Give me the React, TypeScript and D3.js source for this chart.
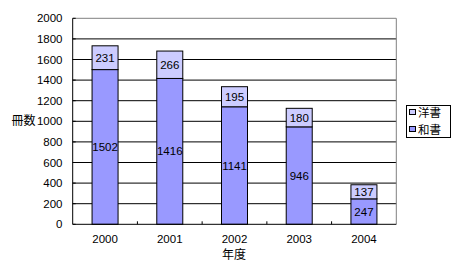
import React from "react";
import * as d3 from "d3";

const categories = ["2000", "2001", "2002", "2003", "2004"];
const washo = [1502, 1416, 1141, 946, 247];
const yosho = [231, 266, 195, 180, 137];
const yTicks = [0, 200, 400, 600, 800, 1000, 1200, 1400, 1600, 1800, 2000];
const seriesNames = ["洋書", "和書"];

const W = 453, H = 275;
const left = 72.7, right = 396.3, top = 18.3, bottom = 224.3;
const FONT = "'Liberation Sans', Arial, 'Noto Sans CJK JP', sans-serif";
const JFONT = "'Noto Sans CJK JP', sans-serif";
const C_WA = "#9999FF";
const C_YO = "#CCCCFF";

export default function App() {
  const x = d3.scaleBand().domain(categories).range([left, right]).paddingInner(0).paddingOuter(0);
  const y = d3.scaleLinear().domain([0, 2000]).range([bottom, top]);
  const bw = 26;
  const step = x.step();
  return (
    <svg width={W} height={H} style={{ position: "absolute", left: 0, top: 0 }}>
      <rect width={W} height={H} fill="white" />
      {yTicks.slice(1, -1).map((t) => (
        <line key={t} x1={left} x2={right} y1={y(t)} y2={y(t)} stroke="black" strokeWidth={1} />
      ))}
      <line x1={left} x2={right} y1={y(2000)} y2={y(2000)} stroke="#808080" />
      <line x1={right} x2={right} y1={top} y2={bottom} stroke="#808080" />
      {categories.map((c, i) => {
        const cx = (x(c) as number) + step / 2;
        const x0 = cx - bw / 2;
        const yw = y(washo[i]);
        const yt = y(washo[i] + yosho[i]);
        return (
          <g key={c}>
            <rect x={x0} y={yw} width={bw} height={bottom - yw} fill={C_WA} stroke="black" strokeWidth={1} />
            <rect x={x0} y={yt} width={bw} height={yw - yt} fill={C_YO} stroke="black" strokeWidth={1} />
            <text x={cx} y={y(washo[i] / 2)} dy="0.35em" textAnchor="middle" fontFamily={FONT} fontSize={11.5}>{washo[i]}</text>
            <text x={cx} y={y(washo[i] + yosho[i] / 2)} dy="0.35em" textAnchor="middle" fontFamily={FONT} fontSize={11.5}>{yosho[i]}</text>
            <text x={cx} y={242.5} textAnchor="middle" fontFamily={FONT} fontSize={11.5}>{c}</text>
          </g>
        );
      })}
      {categories.slice(1).map((c) => (
        <line key={c} x1={x(c)} x2={x(c)} y1={bottom - 3} y2={bottom} stroke="black" />
      ))}
      <line x1={left} x2={left} y1={top} y2={bottom} stroke="black" />
      <line x1={left} x2={right} y1={bottom} y2={bottom} stroke="black" />
      {yTicks.map((t) => (
        <g key={t}>
          <line x1={left} x2={left + 3} y1={y(t)} y2={y(t)} stroke="black" />
          <text x={62.5} y={y(t)} dy="0.35em" textAnchor="end" fontFamily={FONT} fontSize={11.5}>{t}</text>
        </g>
      ))}
      <text x={23.5} y={121} dy="0.35em" textAnchor="middle" fontFamily={JFONT} fontSize={12}>冊数</text>
      <text x={234} y={255} dy="0.35em" textAnchor="middle" fontFamily={JFONT} fontSize={12}>年度</text>
      <rect x={406.5} y={105.5} width={44} height={32} fill="white" stroke="black" />
      {seriesNames.map((s, i) => (
        <g key={s}>
          <rect x={409.5} y={109.5 + i * 17} width={6} height={5} fill={i === 0 ? C_YO : C_WA} stroke="black" />
          <text x={418} y={113 + i * 17} dy="0.35em" fontFamily={JFONT} fontSize={11.5}>{s}</text>
        </g>
      ))}
    </svg>
  );
}
